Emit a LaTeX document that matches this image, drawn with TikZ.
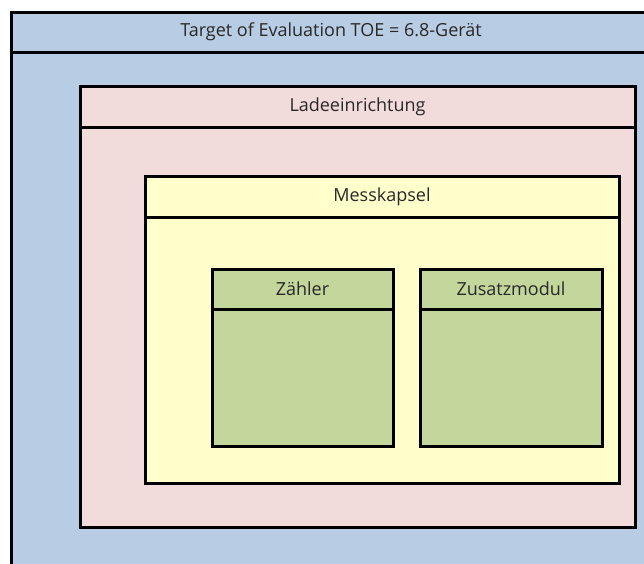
\documentclass[tikz,border=0pt]{standalone}
\usepackage{fontspec}
\setmainfont{Open Sans}
\definecolor{toeblue}{RGB}{184,204,228}
\definecolor{ladepink}{RGB}{242,220,219}
\definecolor{kapselyellow}{RGB}{255,255,204}
\definecolor{modgreen}{RGB}{195,214,155}
\definecolor{textgray}{RGB}{40,40,40}
\usetikzlibrary{calc, positioning}

\tikzset{
  box/.style={draw=black, line width=3pt, line join=miter},
  head/.style={font=\fontsize{18}{21}\selectfont, text=textgray, inner sep=0pt}
}

\begin{document}
\begin{tikzpicture}[x=1pt, y=-1pt]
	\useasboundingbox (0,0) rectangle (644,563);
	\fill[white] (0,0) rectangle (644,563);
	\clip (0,0) rectangle (644,563);
	% TOE frame, runs past the right and lower border
	\draw[box, fill=toeblue] (11,12) coordinate (toe nw) rectangle (651,600) coordinate (toe se);
	\draw[box] (11,52) -- (651,52);
	\node[head] (toe) at (331,32) {Target of Evaluation TOE = 6.8-Gerät};
	% charging unit
	\draw[box, fill=ladepink] (80,86) rectangle (635,527);
	\draw[box] (80,127) -- (635,127);
	\node[head] (lade) at (357.5,106.5) {Ladeeinrichtung};
	% measuring capsule
	\draw[box, fill=kapselyellow] (145,176) rectangle (619,483);
	\draw[box] (145,217) -- (619,217);
	\node[head] (kapsel) at (382,196.5) {Messkapsel};
	% the two modules inside
	\draw[box, fill=modgreen] (212,269) rectangle (393,446);
	\draw[box] (212,309) -- (393,309);
	\node[head] (zaehler) at (302.5,289) {Zähler};
	\draw[box, fill=modgreen] (420,269) rectangle (602,446);
	\draw[box] (420,309) -- (602,309);
	\node[head] (zusatz) at (511,289) {Zusatzmodul};
\end{tikzpicture}
\end{document}
